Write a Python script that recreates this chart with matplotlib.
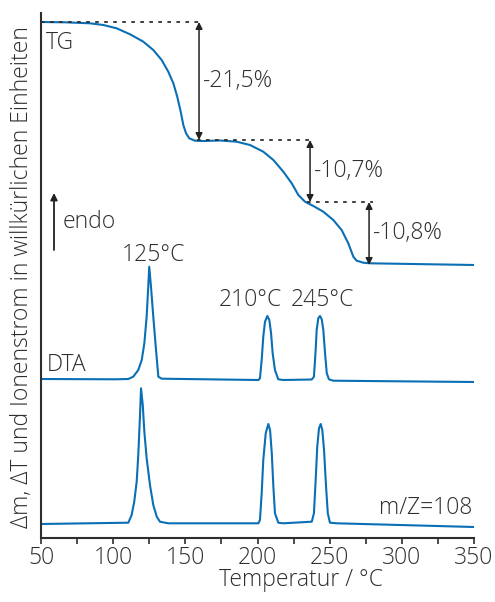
import numpy as np
import matplotlib
matplotlib.use('Agg')
from matplotlib import pyplot as plt

# TG curve (temperature in °C, signal in arbitrary units)
tg_t = [50, 66.6, 83.9, 93.2, 102.4, 111.7, 120.9, 127.8, 133.6, 138.2, 141.7,
        144.4, 146.8, 148.6, 150.5, 152.7, 156.7, 162.4, 174, 185.6, 194.8,
        204, 211, 217.9, 223.7, 228.3, 232.9, 238.7, 245.6, 252.5, 258.3,
        262.9, 266.4, 268.7, 273.3, 277.9, 350]
tg_y = [516, 515.7, 514.7, 513, 509.7, 503.7, 496.3, 488, 478, 466.3, 454.7,
        441.3, 426.3, 413, 404.7, 399.7, 397.3, 397, 397.5, 396.3, 393,
        386.3, 378, 366.3, 354.7, 343, 336.3, 332, 326.3, 318, 308,
        294.7, 281.3, 277.3, 275.3, 274.7, 273]

# DTA curve
dta_t = [50, 101.3, 110.5, 113.9, 117.4, 119.8, 121.6, 123.2, 124.3, 125,
         126.2, 127.8, 129.5, 131.3, 133.6,
         200.6, 201.7, 202.9, 204, 205.2, 206.8, 208.2, 209.4, 210.5, 212.1,
         214.4, 217.9,
         237.6, 239.1, 240.3, 241, 242.1, 243.3, 244.5, 245.6, 246.8, 248,
         249.5, 252.5, 350]
dta_y = [159, 158.7, 159, 161.3, 168, 178, 194.7, 221.3, 251.3, 271.3,
         251.3, 221.3, 191.3, 161.3, 159.3,
         158, 159.7, 178, 201.3, 216.3, 222, 218, 204.7, 184.7, 168,
         158.7, 158,
         158.5, 161.3, 188, 208, 219.7, 222, 218.7, 208, 184.7, 164.7,
         158.7, 157.3, 156]

# ion current m/Z=108
ms_t = [50, 110.5, 112.8, 114.6, 116.3, 117.4, 118.6, 119.3, 120.5, 121.6,
        123.2, 125.5, 127.8, 130.2, 132.4, 138.2,
        200.6, 201.7, 202.9, 204, 205.7, 207.5, 208.7, 209.9, 211, 212.1,
        214.4, 217.9,
        237.6, 239.1, 240.3, 241.4, 242.6, 243.8, 244.9, 246.1, 247.5, 248.7,
        250.2, 254.9, 350]
ms_y = [14, 15.3, 23, 36.3, 56.3, 83, 123, 149.7, 133, 106.3,
        79.7, 53, 33, 21.3, 16.3, 14.7,
        14.7, 18, 44.7, 78, 104.7, 114, 108, 84.7, 51.3, 24.7,
        15.3, 14.7,
        16.3, 24.7, 58, 91.3, 109.7, 114, 108, 88, 51.3, 24.7,
        15.3, 14.7, 11]

# mass loss steps
step_t = [159.5, 236.4, 277.3]
step_top = [516, 398, 336]
step_bot = [398, 336, 273]
step_labels = ['-21,5%', '-10,7%', '-10,8%']
dot_start = [50, 158, 234.3]
dot_end = [162.2, 238.5, 280]

peak_t = [127.6, 194.8, 244.7]
peak_labels = ['125°C', '210°C', '245°C']
peak_y = [283, 238, 238]

plt.rcParams['font.family'] = ['Open Sans', 'DejaVu Sans']
plt.rcParams['font.weight'] = 'light'
blue = '#0a6fb5'
grey = '#2e2e2e'
fs = 16.5

fig = plt.figure(figsize=(4.95, 6.02), dpi=100)
ax = fig.add_axes([41/495, 1-538/602, 433/495, 525/602])

ax.plot(tg_t, tg_y, color=blue, lw=1.5)
ax.plot(dta_t, dta_y, color=blue, lw=1.5)
ax.plot(ms_t, ms_y, color=blue, lw=1.5)

for i in range(3):
    ax.plot([dot_start[i], dot_end[i]], [step_top[i], step_top[i]],
            color=grey, lw=1.3, ls=(0, (2, 3)))
    ax.annotate('', xy=(step_t[i], step_bot[i]), xytext=(step_t[i], step_top[i]),
                arrowprops=dict(arrowstyle='<|-|>', color='#222222', lw=1.1,
                                mutation_scale=10, shrinkA=0, shrinkB=0))
    ax.text(step_t[i] + 3, (step_top[i] + step_bot[i]) / 2, step_labels[i],
            fontsize=fs, color=grey, ha='left', va='center')

for t, lab, y in zip(peak_t, peak_labels, peak_y):
    ax.text(t, y, lab, fontsize=fs, color=grey, ha='center', va='center')

ax.annotate('', xy=(59, 345), xytext=(59, 288),
            arrowprops=dict(arrowstyle='-|>', color='#222222', lw=1.3,
                            mutation_scale=10, shrinkA=0, shrinkB=0))
ax.text(65.2, 316, 'endo', fontsize=fs, color=grey, ha='left', va='center')
ax.text(53.5, 495, 'TG', fontsize=fs, color=grey, ha='left', va='center')
ax.text(54.2, 173, 'DTA', fontsize=fs, color=grey, ha='left', va='center')
ax.text(348.6, 30, 'm/Z=108', fontsize=fs, color=grey, ha='right', va='center')

ax.set_xlim(50, 350)
ax.set_ylim(0, 525)
ax.set_xticks(np.arange(50, 351, 50))
ax.set_xticks(np.arange(75, 350, 50), minor=True)
ax.set_yticks([])
ax.spines['top'].set_visible(False)
ax.spines['right'].set_visible(False)
for side in ['left', 'bottom']:
    ax.spines[side].set_color(grey)
    ax.spines[side].set_linewidth(1.5)
ax.tick_params(axis='x', which='both', direction='out', length=4, width=1.2,
               color=grey, labelsize=fs, labelcolor=grey, pad=2)

fig.text(301/495, 1-580/602, 'Temperatur / °C', fontsize=fs, color=grey,
         ha='center', va='center')
fig.text(22/495, 1-277/602, 'Δm, ΔT und Ionenstrom in willkürlichen Einheiten',
         fontsize=fs, color=grey, ha='center', va='center', rotation=90)

fig.savefig('out.png', dpi=100)
